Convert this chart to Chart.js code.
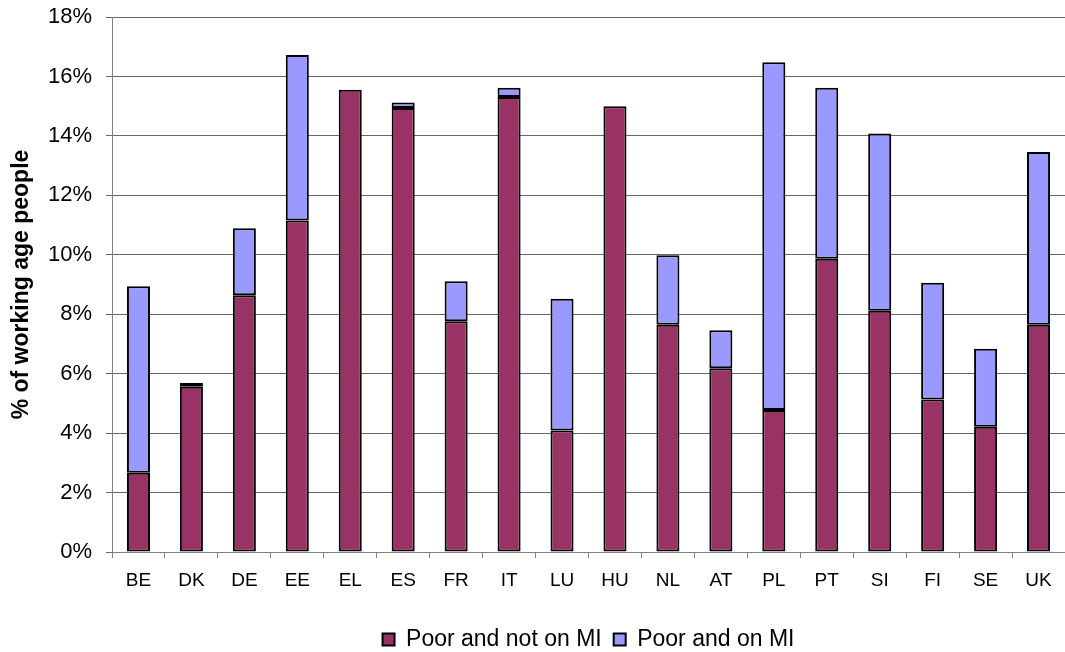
<!DOCTYPE html>
<html>
<head>
<meta charset="utf-8">
<script src="https://cdn.jsdelivr.net/npm/chart.js@4/dist/chart.umd.min.js"></script>
<style>
  html, body { margin: 0; padding: 0; background: #fff; }
  #wrap { width: 1065px; height: 652px; position: relative; }
</style>
</head>
<body>
<div id="wrap"><canvas id="c" width="1065" height="652"></canvas></div>
<script>
// Share of working-age people in poverty, split by minimum-income (MI) receipt
const countries = ['BE','DK','DE','EE','EL','ES','FR','IT','LU','HU','NL','AT','PL','PT','SI','FI','SE','UK'];
const poorNotOnMI = [2.67, 5.56, 8.64, 11.15, 15.55, 14.94, 7.76, 15.31, 4.09, 15.00, 7.65, 6.18, 4.78, 9.87, 8.12, 5.13, 4.21, 7.65];
const poorOnMI    = [6.27, 0.13, 2.25, 5.57, 0.00, 0.18, 1.35, 0.31, 4.43, 0.00, 2.33, 1.28, 11.70, 5.75, 5.96, 3.93, 2.63, 5.81];
const yTicks = [0, 2, 4, 6, 8, 10, 12, 14, 16, 18];

const FONT = '"Liberation Sans", Arial, sans-serif';

// Centres the legend row under the plot area and nudges it down
const legendPlace = {
  id: 'legendPlace',
  afterLayout(chart) {
    const lg = chart.legend;
    const ca = chart.chartArea;
    if (lg) {
      lg.left = ca.left;
      lg.right = ca.right;
      lg.width = ca.right - ca.left;
      lg.top += 9;
      lg.bottom += 9;
    }
  }
};

new Chart(document.getElementById('c'), {
  type: 'bar',
  data: {
    labels: countries,
    datasets: [
      {
        label: 'Poor and not on MI',
        data: poorNotOnMI,
        backgroundColor: '#993366',
        borderColor: '#000',
        borderWidth: 2,
        borderSkipped: false
      },
      {
        label: 'Poor and on MI',
        data: poorOnMI,
        backgroundColor: '#9999FF',
        borderColor: '#000',
        borderWidth: 2,
        borderSkipped: false
      }
    ]
  },
  plugins: [legendPlace],
  options: {
    responsive: false,
    animation: false,
    devicePixelRatio: 1,
    layout: { padding: 0 },
    datasets: { bar: { categoryPercentage: 1.0, barPercentage: 0.435 } },
    plugins: {
      tooltip: { enabled: false },
      legend: {
        position: 'bottom',
        labels: {
          color: '#000',
          font: { family: FONT, size: 23 },
          boxWidth: 12,
          boxHeight: 12,
          padding: 12,
          useBorderRadius: false
        }
      }
    },
    scales: {
      x: {
        stacked: true,
        offset: true,
        grid: {
          offset: true,
          drawOnChartArea: false,
          drawTicks: true,
          tickLength: 6,
          color: '#808080'
        },
        border: { color: '#808080', width: 1 },
        ticks: {
          color: '#000',
          font: { family: FONT, size: 19 },
          padding: 11,
          maxRotation: 0,
          autoSkip: false
        },
        afterFit: (s) => { s.height = 55; }
      },
      y: {
        stacked: true,
        min: 0,
        max: 18,
        afterBuildTicks: (s) => { s.ticks = yTicks.map(v => ({ value: v })); },
        grid: {
          color: '#666666',
          drawTicks: true,
          tickLength: 6
        },
        border: { color: '#808080', width: 1 },
        ticks: {
          color: '#000',
          font: { family: FONT, size: 22 },
          padding: 14,
          callback: (v) => v + '%'
        },
        title: {
          display: true,
          text: '% of working age people',
          color: '#000',
          font: { family: FONT, size: 23, weight: 'bold' },
          padding: { top: 8, bottom: 0 }
        },
        afterFit: (s) => {
          s.width = 112;
          s.paddingTop = 17;
          s.paddingBottom = 0;
        }
      }
    }
  }
});
</script>
</body>
</html>
